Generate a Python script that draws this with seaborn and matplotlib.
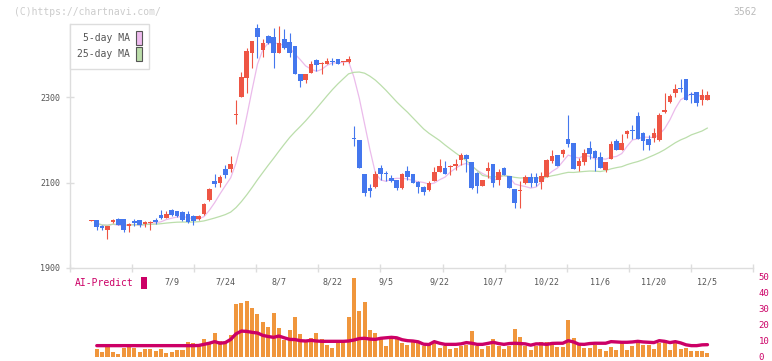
import numpy as np
import pandas as pd
import matplotlib
matplotlib.use("Agg")
import matplotlib.pyplot as plt
from matplotlib.patches import Patch
import seaborn as sns

# daily prices, oldest first
opens = [2011, 2012, 1998, 1989, 2008, 2015, 2015, 1998, 2010, 2012,
         2004, 2006, 2013, 2024, 2017, 2036, 2033, 2031, 2026, 2022,
         2015, 2026, 2059, 2104, 2100, 2132, 2132, 2257, 2301, 2345,
         2404, 2462, 2409, 2443, 2440, 2404, 2436, 2429, 2419, 2354,
         2341, 2357, 2387, 2377, 2378, 2383, 2389, 2381, 2381, 2205,
         2199, 2120, 2087, 2090, 2133, 2121, 2111, 2106, 2088, 2127,
         2120, 2102, 2090, 2082, 2104, 2125, 2133, 2137, 2139, 2153,
         2165, 2148, 2123, 2092, 2127, 2143, 2106, 2135, 2115, 2085,
         2080, 2098, 2112, 2112, 2101, 2114, 2151, 2164, 2167, 2202,
         2192, 2139, 2148, 2180, 2174, 2159, 2129, 2155, 2197, 2176,
         2213, 2223, 2256, 2217, 2202, 2204, 2199, 2264, 2288, 2310,
         2320, 2342, 2306, 2311, 2293, 2293]
highs = [2012, 2012, 2000, 1999, 2014, 2016, 2015, 2006, 2014, 2013,
         2011, 2010, 2016, 2036, 2034, 2037, 2034, 2033, 2033, 2023,
         2024, 2052, 2087, 2120, 2118, 2141, 2162, 2293, 2359, 2416,
         2432, 2471, 2435, 2445, 2461, 2467, 2459, 2449, 2420, 2355,
         2355, 2385, 2389, 2381, 2391, 2391, 2390, 2383, 2395, 2232,
         2200, 2121, 2096, 2126, 2140, 2127, 2117, 2107, 2122, 2139,
         2121, 2103, 2091, 2103, 2137, 2154, 2150, 2140, 2154, 2168,
         2166, 2149, 2124, 2107, 2148, 2144, 2132, 2136, 2116, 2086,
         2103, 2117, 2123, 2123, 2124, 2154, 2176, 2165, 2178, 2258,
         2193, 2158, 2179, 2197, 2175, 2171, 2148, 2197, 2202, 2213,
         2223, 2234, 2264, 2218, 2211, 2227, 2263, 2310, 2307, 2330,
         2342, 2342, 2311, 2312, 2320, 2314]
lows = [2011, 1988, 1990, 1967, 2005, 2000, 1984, 1985, 1998, 1997,
        1997, 1989, 2003, 2014, 2017, 2022, 2020, 2011, 2006, 2000,
        2012, 2024, 2057, 2089, 2090, 2111, 2125, 2236, 2300, 2309,
        2367, 2392, 2393, 2425, 2369, 2403, 2412, 2393, 2353, 2324,
        2334, 2356, 2360, 2353, 2377, 2375, 2377, 2375, 2380, 2186,
        2134, 2068, 2067, 2087, 2106, 2103, 2102, 2082, 2086, 2106,
        2098, 2075, 2071, 2081, 2103, 2124, 2119, 2118, 2129, 2142,
        2125, 2086, 2076, 2091, 2111, 2090, 2094, 2117, 2087, 2040,
        2040, 2097, 2090, 2092, 2085, 2113, 2145, 2138, 2159, 2184,
        2131, 2128, 2141, 2155, 2127, 2133, 2125, 2154, 2175, 2175,
        2205, 2203, 2201, 2176, 2176, 2194, 2198, 2262, 2286, 2300,
        2313, 2292, 2287, 2280, 2282, 2292]
closes = [2012, 1997, 1993, 1998, 2012, 2001, 1989, 2003, 2005, 2000,
          2008, 2008, 2008, 2017, 2026, 2024, 2022, 2012, 2007, 2010,
          2022, 2050, 2085, 2097, 2113, 2118, 2143, 2259, 2347, 2408,
          2431, 2441, 2427, 2427, 2404, 2427, 2415, 2402, 2355, 2338,
          2354, 2378, 2376, 2379, 2385, 2382, 2378, 2383, 2389, 2202,
          2135, 2075, 2081, 2120, 2119, 2119, 2103, 2088, 2120, 2112,
          2100, 2090, 2079, 2100, 2125, 2139, 2120, 2139, 2144, 2165,
          2156, 2087, 2092, 2106, 2135, 2100, 2125, 2118, 2088, 2053,
          2082, 2112, 2100, 2100, 2115, 2153, 2163, 2139, 2176, 2190,
          2132, 2150, 2168, 2167, 2158, 2134, 2147, 2190, 2176, 2192,
          2220, 2221, 2202, 2198, 2188, 2216, 2258, 2270, 2303, 2319,
          2319, 2293, 2304, 2287, 2305, 2305]

# lower panel: volume bars and AI-Predict line (first day has no value)
volume = [np.nan, 4.8, 2.9, 6.3, 2.9, 1.7, 5.4, 6.6, 5.5, 2.9,
          4.8, 4.8, 3.5, 4.8, 2.3, 2.9, 4.2, 4.2, 9.2, 8.6,
          7.1, 11.0, 9.2, 15.0, 9.8, 8.6, 13.6, 32.9, 33.8, 34.8,
          30.4, 26.7, 21.9, 18.6, 27.5, 18.0, 10.4, 16.8, 24.8, 14.2,
          9.8, 11.7, 15.0, 11.0, 7.3, 5.5, 10.4, 10.4, 24.8, 49.2,
          28.6, 34.2, 16.8, 15.0, 11.0, 6.8, 11.7, 11.0, 8.6, 7.3,
          9.2, 8.6, 7.0, 7.3, 9.2, 5.5, 7.0, 4.8, 5.5, 7.0,
          7.3, 16.1, 7.0, 4.8, 7.0, 11.0, 6.7, 4.8, 7.0, 17.3,
          12.3, 6.7, 4.4, 7.0, 9.2, 9.2, 8.0, 6.1, 6.1, 22.9,
          11.7, 8.0, 5.5, 5.5, 7.3, 4.8, 3.5, 6.1, 4.2, 9.2,
          4.2, 6.7, 9.2, 7.3, 7.3, 4.8, 8.6, 10.4, 4.2, 8.6,
          4.8, 5.5, 3.5, 3.5, 3.5, 2.3]
ai_predict = [np.nan, 7.1, 7.1, 7.1, 7.1, 7.1, 7.1, 7.1, 7.1, 7.1,
              7.1, 7.1, 7.1, 7.1, 7.1, 7.1, 7.1, 7.1, 7.1, 7.1,
              7.2, 7.9, 8.6, 9.6, 8.6, 9.0, 11.0, 14.5, 16.2, 16.0,
              15.4, 15.0, 13.5, 12.8, 12.3, 13.1, 12.0, 11.0, 10.9, 10.2,
              10.0, 10.4, 10.0, 9.8, 9.8, 9.8, 9.8, 9.8, 10.0, 10.6,
              11.5, 11.7, 11.2, 11.0, 11.7, 12.0, 12.3, 12.0, 10.8, 10.2,
              10.0, 9.5, 8.0, 7.8, 9.6, 8.6, 7.9, 7.9, 7.9, 8.2,
              9.0, 8.6, 7.9, 7.9, 8.5, 9.2, 8.4, 7.9, 8.4, 8.6,
              8.4, 8.2, 7.4, 8.2, 8.2, 7.9, 8.5, 8.6, 8.6, 10.2,
              9.4, 8.0, 7.9, 8.4, 8.6, 8.6, 8.6, 9.6, 9.4, 9.2,
              9.2, 9.4, 9.8, 9.4, 9.2, 9.0, 10.2, 9.8, 9.0, 9.6,
              8.8, 7.6, 7.1, 7.1, 7.6, 7.7]

date_pos = [15, 25, 35, 45, 55, 65, 75, 85, 95, 105, 115]
date_labels = ["7/9", "7/24", "8/7", "8/22", "9/5", "9/22",
               "10/7", "10/22", "11/6", "11/20", "12/5"]

RED = "#ee5544"
BLUE = "#4477ee"
GRID = "#dddddd"
TXT = "#555555"
MAGENTA = "#cc0066"

sns.set_style("white")
plt.rcParams["font.family"] = ["DejaVu Sans Mono", "DejaVu Sans"]

df = pd.DataFrame({"open": opens, "high": highs, "low": lows, "close": closes,
                   "volume": volume, "ai": ai_predict})
df["idx"] = np.arange(len(df))
df["ma5"] = df["close"].rolling(5, min_periods=1).mean()
df["ma25"] = df["close"].rolling(25, min_periods=1).mean()

W, H = 772, 361
fig = plt.figure(figsize=(W / 100, H / 100), dpi=100)
ax = fig.add_axes([70 / W, 1 - 268 / H, (753 - 70) / W, (268 - 24) / H])
ax2 = fig.add_axes([70 / W, 1 - 357 / H, (753 - 70) / W, 80 / H])
ax2.set_facecolor("none")
xlim = (-4.0, 123.5)

# moving averages
ma = df[df["idx"] >= 1]
sns.lineplot(x=ma["idx"], y=ma["ma5"], ax=ax, color="#ebbbeb", lw=0.9, zorder=1)
sns.lineplot(x=ma["idx"], y=ma["ma25"], ax=ax, color="#bbdeab", lw=0.9, zorder=1)

# candlesticks
up = df["close"] >= df["open"]
colors = np.where(up, RED, BLUE)
ax.vlines(df["idx"], df["low"], df["high"], colors=colors, lw=0.8, zorder=2)
body_low = np.minimum(df["open"], df["close"])
body_h = np.maximum((df["close"] - df["open"]).abs(), 2.3)
ax.bar(df["idx"], body_h, bottom=body_low, width=0.86, color=colors, lw=0, zorder=3)

ax.set_xlim(xlim)
ax.set_ylim(1900, 2471)
ax.set_xlabel("")
ax.set_ylabel("")
ax.set_yticks([1900, 2100, 2300])
ax.tick_params(axis="y", left=True, direction="inout", length=6, width=1,
               color=GRID, labelsize=6, labelcolor=TXT, pad=4)
ax.set_xticks(date_pos, labels=date_labels)
ax.set_xticks(np.linspace(xlim[0], xlim[1], 12), minor=True)
ax.tick_params(axis="x", which="major", bottom=True, length=0,
               labelsize=6, labelcolor=TXT, pad=7)
ax.tick_params(axis="x", which="minor", bottom=True, direction="inout",
               length=6, width=1, color=GRID)
for side in ["top", "right"]:
    ax.spines[side].set_visible(False)
for side in ["left", "bottom"]:
    ax.spines[side].set_color(GRID)
    ax.spines[side].set_linewidth(1)

handles = [Patch(facecolor="#eebbee", edgecolor=TXT, lw=0.8, label="5-day MA"),
           Patch(facecolor="#bbddaa", edgecolor=TXT, lw=0.8, label="25-day MA")]
leg = ax.legend(handles=handles, loc="upper left", bbox_to_anchor=(0, 1),
                borderaxespad=0, markerfirst=False, fontsize=7, frameon=True,
                fancybox=False, edgecolor=GRID, framealpha=1, handlelength=0.6,
                handleheight=1.85, handletextpad=0.6, labelspacing=0.2,
                borderpad=0.75)
for t in leg.get_texts():
    t.set_color(TXT)

# lower panel
low = df[df["idx"] >= 1]
sns.barplot(x=low["idx"], y=low["volume"], native_scale=True, color="#f0963c",
            saturation=1, width=0.75, linewidth=0, errorbar=None, ax=ax2)
sns.lineplot(x=low["idx"], y=low["ai"], ax=ax2, color=MAGENTA, lw=2.4)
ax2.set_xlim(xlim)
ax2.set_ylim(0, 50)
ax2.set_xlabel("")
ax2.set_ylabel("")
ax2.set_xticks([])
ax2.set_yticks([0, 10, 20, 30, 40, 50])
ax2.tick_params(axis="y", left=False, right=False, labelleft=False,
                labelright=True, length=0, labelsize=6.5,
                labelcolor=MAGENTA, pad=4)
for lbl in ax2.get_yticklabels():
    lbl.set_va("center_baseline")
for s in ax2.spines.values():
    s.set_visible(False)

ax2.legend(handles=[Patch(facecolor=MAGENTA, edgecolor="none", label="AI-Predict")],
           loc="upper left", bbox_to_anchor=(75 / W, 1 - 277 / H),
           bbox_transform=fig.transFigure, markerfirst=False, frameon=False,
           fontsize=7, handlelength=0.7, handleheight=1.6, handletextpad=0.7,
           borderpad=0, borderaxespad=0, labelcolor=MAGENTA)

fig.text(14 / W, 1 - 12 / H, "(C)https://chartnavi.com/", color="#cccccc",
         fontsize=7, va="center", ha="left")
fig.text(757 / W, 1 - 12 / H, "3562", color="#bbbbbb", fontsize=7,
         va="center", ha="right")

fig.savefig("out.png", dpi=100)
